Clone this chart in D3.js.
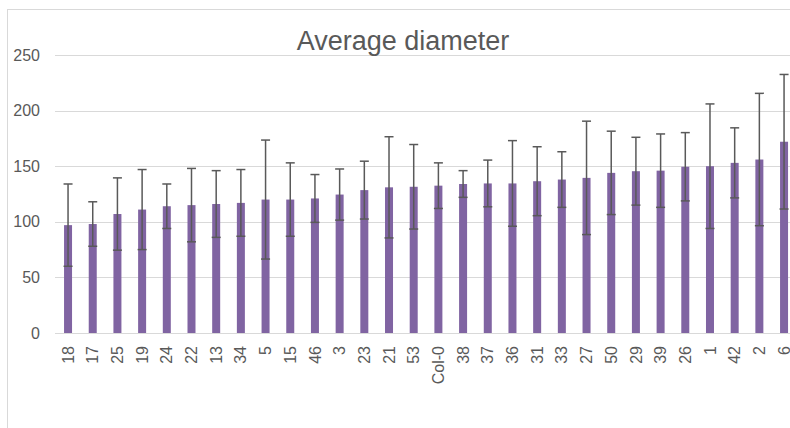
<!DOCTYPE html>
<html><head><meta charset="utf-8">
<script src="https://cdn.jsdelivr.net/npm/d3@7"></script>
<style>body{margin:0;background:#fff}svg{display:block}</style>
</head><body>
<script>
const categories = ["18","17","25","19","24","22","13","34","5","15","46","3","23","21","53","Col-0","38","37","36","31","33","27","50","29","39","26","1","42","2","6"];
const means = [97,98,107,111,114,115,116,117,120,120,121,124.5,128.5,131,131.5,132.5,134,134.5,134.5,136.5,138,139.5,144,145.5,146,149.5,150,153,156,172];
const sds   = [37,20,32.5,36,20,33,30,30,53.5,33,21.5,23,26,45.5,38,20.5,12,21,38.5,31,25,51,37.5,30.5,33,30.7,56,31.5,59.5,60.5];
const yTicks = [0,50,100,150,200,250];
const title = "Average diameter";

const W = 790, H = 428;
const svg = d3.select("body").append("svg").attr("width", W).attr("height", H);

// chart border
svg.append("rect").attr("x",7.5).attr("y",9.5).attr("width",W).attr("height",H)
  .attr("fill","none").attr("stroke","#d9d9d9");

const step = 24.69;
const x = d3.scaleBand().domain(categories).range([55.7, 55.7 + step*categories.length])
  .paddingInner(0.676).paddingOuter(0.338);
const y = d3.scaleLinear().domain([0,250]).range([333,55]);

// gridlines
svg.append("g").selectAll("line").data(yTicks).join("line")
  .attr("x1",55).attr("x2",W).attr("y1",d=>Math.round(y(d))+0.5).attr("y2",d=>Math.round(y(d))+0.5)
  .attr("stroke","#d9d9d9").attr("stroke-width",1);

// y axis labels
const yAxis = d3.axisLeft(y).tickValues(yTicks).tickSize(0).tickPadding(0);
const gy = svg.append("g").attr("transform","translate(40,0)").call(yAxis);
gy.select(".domain").remove();
gy.selectAll("text").attr("font-family","Liberation Sans, Arial, sans-serif").attr("font-size",16).attr("fill","#595959");

// bars
const data = categories.map((c,i)=>({c, m:means[i], s:sds[i]}));
svg.append("g").selectAll("rect").data(data).join("rect")
  .attr("x",d=>x(d.c)).attr("width",x.bandwidth())
  .attr("y",d=>y(d.m)).attr("height",d=>y(0)-y(d.m))
  .attr("fill","#8064a2");

// error bars
const eb = svg.append("g").attr("stroke","#595959").attr("stroke-width",1.5);
data.forEach(d=>{
  const cx = x(d.c) + x.bandwidth()/2;
  eb.append("line").attr("x1",cx).attr("x2",cx).attr("y1",y(d.m+d.s)).attr("y2",y(d.m-d.s));
  [d.m+d.s, d.m-d.s].forEach(v=>{
    eb.append("line").attr("x1",cx-4.5).attr("x2",cx+4.5).attr("y1",y(v)).attr("y2",y(v));
  });
});

// x axis labels
const xAxis = d3.axisBottom(x).tickSize(0).tickPadding(0);
const gx = svg.append("g").attr("transform","translate(0,333)").call(xAxis);
gx.select(".domain").remove();
gx.selectAll("text")
  .attr("font-family","Liberation Sans, Arial, sans-serif").attr("font-size",16).attr("fill","#595959")
  .attr("transform","rotate(-90)").attr("text-anchor","end")
  .attr("x",-13).attr("y",0).attr("dy","0.35em");

// title
svg.append("text").attr("x",403).attr("y",50).attr("text-anchor","middle")
  .attr("font-family","Liberation Sans, Arial, sans-serif").attr("font-size",27).attr("fill","#595959")
  .text(title);
</script>
</body></html>
